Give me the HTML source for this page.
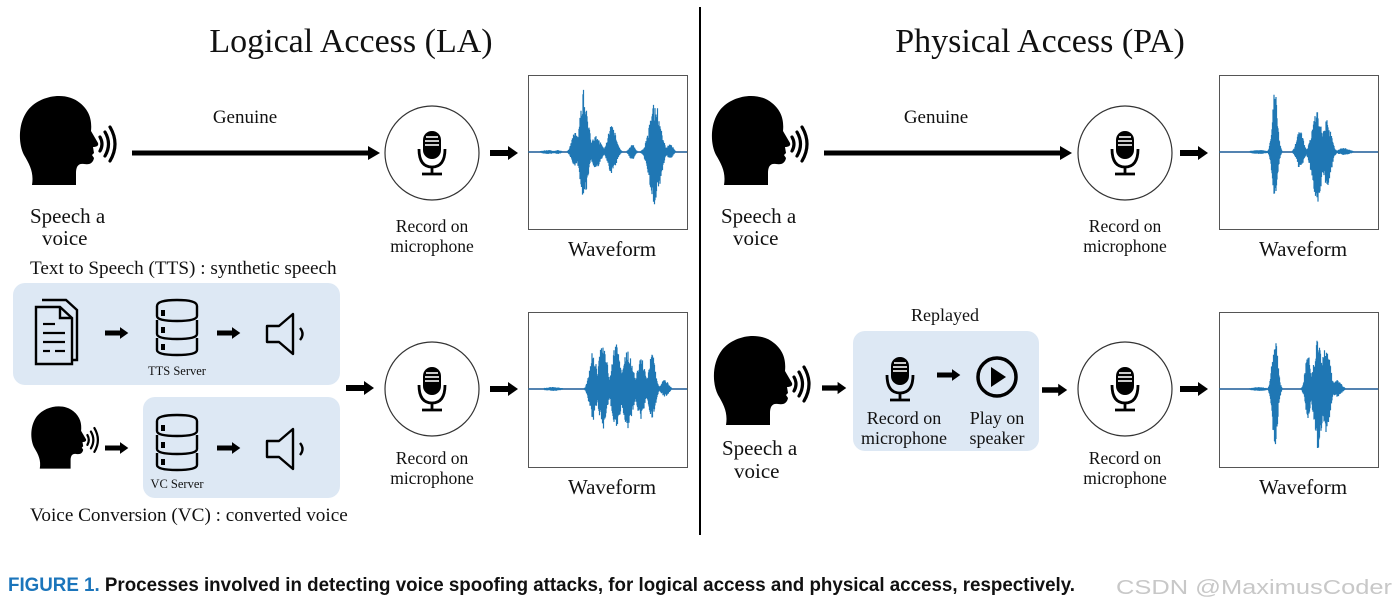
<!DOCTYPE html>
<html><head><meta charset="utf-8">
<style>
html,body{margin:0;padding:0;background:#fff;}
svg{display:block;}
text{font-family:"Liberation Serif",serif;fill:#111;}
</style></head>
<body>
<svg id="s" width="1397" height="612" viewBox="0 0 1397 612" xmlns="http://www.w3.org/2000/svg">
<defs>
  <symbol id="head" viewBox="0 0 100 95" overflow="visible">
    <path d="M14 92 C16 80 12 72 6 62 C0 50 0 30 10 17 C22 2 48 -2 62 10 C72 18 74 28 73 38 L80 50 C81 53 78 54 75 54 L76 60 L74 62 L76 65 C75 70 72 72 66 71 C60 70 58 74 58 80 L58 92 Z" fill="#000"/>
    <g fill="none" stroke="#000" stroke-width="3.2" stroke-linecap="round">
      <path d="M82 44 Q86 51 82 58"/><path d="M87 39 Q94 51 87 63"/><path d="M92 34 Q102 51 92 68"/>
    </g>
  </symbol>
  <symbol id="mic" viewBox="-20 -25 40 50" overflow="visible">
    <rect x="-9" y="-22" width="18" height="28" rx="9" fill="#000"/>
    <g stroke="#fff" stroke-width="1.6"><line x1="-6" y1="-16" x2="6" y2="-16"/><line x1="-7" y1="-12" x2="7" y2="-12"/><line x1="-7" y1="-8" x2="7" y2="-8"/></g>
    <path d="M-13 -4 Q-13 14 0 14 Q13 14 13 -4" fill="none" stroke="#000" stroke-width="2.8"/>
    <line x1="0" y1="14" x2="0" y2="21" stroke="#000" stroke-width="2.8"/>
    <line x1="-10" y1="21" x2="10" y2="21" stroke="#000" stroke-width="2.8"/>
  </symbol>
  <symbol id="db" viewBox="0 0 44 58" overflow="visible">
    <g fill="none" stroke="#000" stroke-width="2.4">
      <path d="M2 8 Q2 2 22 2 Q42 2 42 8 L42 18 Q42 23 22 23 Q2 23 2 18 Z"/>
      <path d="M2 22 L2 36 Q2 41 22 41 Q42 41 42 36 L42 22"/>
      <path d="M2 40 L2 52 Q2 57 22 57 Q42 57 42 52 L42 40"/>
    </g>
    <rect x="6" y="12" width="4" height="6" fill="#000"/><rect x="6" y="29" width="4" height="6" fill="#000"/><rect x="6" y="46" width="4" height="6" fill="#000"/>
  </symbol>
  <symbol id="spk" viewBox="0 0 50 44" overflow="visible">
    <path d="M2 14 L14 14 L28 2 L28 42 L14 30 L2 30 Z" fill="none" stroke="#000" stroke-width="2.4" stroke-linejoin="round"/>
    <path d="M35 16 Q40 22 35 28" fill="none" stroke="#000" stroke-width="2.4"/>
  </symbol>
  <symbol id="arr" viewBox="0 0 30 14" overflow="visible">
    <path d="M0 4 L18 4 L18 0 L28 7 L18 14 L18 10 L0 10 Z" fill="#000"/>
  </symbol>
</defs>

<text x="351" y="52" font-size="34" text-anchor="middle">Logical Access (LA)</text>
<text x="1040" y="52" font-size="34" text-anchor="middle">Physical Access (PA)</text>
<line x1="700" y1="7" x2="700" y2="535" stroke="#000" stroke-width="2"/>

<!-- LA top -->
<use href="#head" x="18" y="93" width="100" height="95"/>
<text x="245" y="123" font-size="19" text-anchor="middle">Genuine</text>
<line x1="132" y1="153" x2="370" y2="153" stroke="#000" stroke-width="5"/>
<path d="M368 146 L380 153 L368 160 Z" fill="#000"/>
<text x="30" y="223" font-size="21">Speech a</text>
<text x="42" y="245" font-size="21">voice</text>
<circle cx="432" cy="153" r="47" fill="none" stroke="#333" stroke-width="1.2"/>
<use href="#mic" x="412" y="128" width="40" height="50"/>
<use href="#arr" x="490" y="146" width="30" height="14"/>
<rect x="528.5" y="75.5" width="159" height="154" fill="none" stroke="#555" stroke-width="1"/>
<g id="w1"></g>
<text x="432" y="232" font-size="17.5" text-anchor="middle">Record on</text>
<text x="432" y="252" font-size="17.5" text-anchor="middle">microphone</text>
<text x="612" y="256" font-size="21" text-anchor="middle">Waveform</text>
<text x="30" y="274" font-size="19.2">Text to Speech (TTS) : synthetic speech</text>

<!-- LA bottom -->
<rect x="13" y="283" width="327" height="102" rx="12" fill="#dde8f4"/>
<rect x="143" y="397" width="197" height="101" rx="12" fill="#dde8f4"/>
<g fill="none" stroke="#000" stroke-width="2.4">
  <path d="M42 300 L66 300 L77 310 L77 360 L42 360"/>
  <path d="M36 307 L60 307 L72 318 L72 364 L36 364 Z" fill="#dde8f4"/>
  <path d="M60 307 L60 318 L72 318"/>
</g>
<g stroke="#000" stroke-width="2.2"><line x1="43" y1="324" x2="55" y2="324"/><line x1="43" y1="333" x2="65" y2="333"/><line x1="43" y1="342" x2="65" y2="342"/><line x1="43" y1="351" x2="50" y2="351"/><line x1="55" y1="351" x2="65" y2="351"/></g>
<use href="#arr" x="105" y="326" width="25" height="14"/>
<use href="#db" x="155" y="298" width="44" height="58"/>
<use href="#arr" x="217" y="326" width="25" height="14"/>
<use href="#spk" x="265" y="312" width="50" height="44"/>
<text x="177" y="375" font-size="12.5" text-anchor="middle">TTS Server</text>

<use href="#head" x="30" y="404" width="70" height="67"/>
<use href="#arr" x="105" y="441" width="25" height="14"/>
<use href="#db" x="155" y="413" width="44" height="58"/>
<use href="#arr" x="217" y="441" width="25" height="14"/>
<use href="#spk" x="265" y="427" width="50" height="44"/>
<text x="177" y="488" font-size="12.5" text-anchor="middle">VC Server</text>
<text x="30" y="521" font-size="19.2">Voice Conversion (VC) : converted voice</text>

<use href="#arr" x="344" y="381" width="34" height="14"/>
<circle cx="432" cy="389" r="47" fill="none" stroke="#333" stroke-width="1.2"/>
<use href="#mic" x="412" y="364" width="40" height="50"/>
<use href="#arr" x="490" y="382" width="30" height="14"/>
<rect x="528.5" y="312.5" width="159" height="155" fill="none" stroke="#555" stroke-width="1"/>
<g id="w2"></g>
<text x="432" y="464" font-size="17.5" text-anchor="middle">Record on</text>
<text x="432" y="484" font-size="17.5" text-anchor="middle">microphone</text>
<text x="612" y="494" font-size="21" text-anchor="middle">Waveform</text>

<!-- PA top -->
<use href="#head" x="710" y="93" width="100" height="95"/>
<text x="936" y="123" font-size="19" text-anchor="middle">Genuine</text>
<line x1="824" y1="153" x2="1062" y2="153" stroke="#000" stroke-width="5"/>
<path d="M1060 146 L1072 153 L1060 160 Z" fill="#000"/>
<text x="721" y="223" font-size="21">Speech a</text>
<text x="733" y="245" font-size="21">voice</text>
<circle cx="1125" cy="153" r="47" fill="none" stroke="#333" stroke-width="1.2"/>
<use href="#mic" x="1105" y="128" width="40" height="50"/>
<use href="#arr" x="1180" y="146" width="30" height="14"/>
<rect x="1219.5" y="75.5" width="159" height="154" fill="none" stroke="#555" stroke-width="1"/>
<g id="w3"></g>
<text x="1125" y="232" font-size="17.5" text-anchor="middle">Record on</text>
<text x="1125" y="252" font-size="17.5" text-anchor="middle">microphone</text>
<text x="1303" y="256" font-size="21" text-anchor="middle">Waveform</text>

<!-- PA bottom -->
<use href="#head" x="712" y="333" width="100" height="95"/>
<text x="722" y="455" font-size="21">Speech a</text>
<text x="734" y="478" font-size="21">voice</text>
<use href="#arr" x="822" y="381" width="26" height="14"/>
<text x="945" y="321" font-size="18" text-anchor="middle">Replayed</text>
<rect x="853" y="331" width="186" height="120" rx="12" fill="#dde8f4"/>
<use href="#mic" x="880" y="354" width="40" height="50"/>
<use href="#arr" x="937" y="368" width="25" height="14"/>
<circle cx="997" cy="377" r="19" fill="none" stroke="#000" stroke-width="3.5"/>
<path d="M991 367 L1006 377 L991 387 Z" fill="#000"/>
<text x="904" y="424" font-size="18" text-anchor="middle">Record on</text>
<text x="904" y="444" font-size="18" text-anchor="middle">microphone</text>
<text x="997" y="424" font-size="18" text-anchor="middle">Play on</text>
<text x="997" y="444" font-size="18" text-anchor="middle">speaker</text>
<use href="#arr" x="1042" y="383" width="27" height="14"/>
<circle cx="1125" cy="389" r="47" fill="none" stroke="#333" stroke-width="1.2"/>
<use href="#mic" x="1105" y="364" width="40" height="50"/>
<use href="#arr" x="1180" y="382" width="30" height="14"/>
<rect x="1219.5" y="312.5" width="159" height="155" fill="none" stroke="#555" stroke-width="1"/>
<g id="w4"></g>
<text x="1125" y="464" font-size="17.5" text-anchor="middle">Record on</text>
<text x="1125" y="484" font-size="17.5" text-anchor="middle">microphone</text>
<text x="1303" y="494" font-size="21" text-anchor="middle">Waveform</text>

<text x="8" y="591" font-size="19" font-weight="bold" style="font-family:'Liberation Sans Narrow','Liberation Sans',sans-serif" textLength="1067" lengthAdjust="spacingAndGlyphs"><tspan fill="#1b75bb">FIGURE 1.</tspan><tspan fill="#111"> Processes involved in detecting voice spoofing attacks, for logical access and physical access, respectively.</tspan></text>
<text x="1116" y="594" font-size="20" textLength="276" lengthAdjust="spacingAndGlyphs" style="font-family:'Liberation Sans',sans-serif;fill:#c8c8c8">CSDN @MaximusCoder</text>
</svg>
<script>
(function(){
  var seed=7;function rnd(){seed=(seed*16807)%2147483647;return seed/2147483647;}
  function wave(id,x0,y0,w,cy,bursts){
    var g=document.getElementById(id),ns="http://www.w3.org/2000/svg";
    var d="";
    for(var x=1;x<w-1;x+=0.5){
      var up=0.7,dn=0.7;
      for(var i=0;i<bursts.length;i++){var b=bursts[i];var t=(x-b[0])/b[1];var e=Math.exp(-t*t*1.2);up=Math.max(up,b[2]*e*(0.6+0.4*rnd()));dn=Math.max(dn,b[3]*e*(0.6+0.4*rnd()));}
      d+="M"+(x0+x).toFixed(1)+" "+(cy-up).toFixed(1)+"V"+(cy+dn).toFixed(1);
    }
    var l=document.createElementNS(ns,"line");l.setAttribute("x1",x0+1);l.setAttribute("x2",x0+w-1);l.setAttribute("y1",cy);l.setAttribute("y2",cy);l.setAttribute("stroke","#e55");l.setAttribute("stroke-width","1.4");g.appendChild(l);
    var p=document.createElementNS(ns,"path");p.setAttribute("d",d);p.setAttribute("stroke","#1f77b4");p.setAttribute("stroke-width","1.2");p.setAttribute("fill","none");g.appendChild(p);
  }
  wave("w1",528,75,160,152,[[47,5,20,14],[56,6,63,48],[68,7,16,16],[84,6,30,22],[104,4,8,8],[127,8,50,54],[142,4,10,7],[20,10,2,2],[30,5,2,2]]);
  wave("w2",528,312,160,389,[[65,5,40,32],[75,6,50,40],[88,6,45,45],[100,7,40,40],[113,6,32,30],[124,5,35,30],[137,5,10,8],[25,12,2,2]]);
  wave("w3",1219,75,160,152,[[56,4,63,48],[81,5,22,17],[98,7,40,52],[108,6,32,36],[125,9,4,3],[40,12,2,2]]);
  wave("w4",1219,312,160,389,[[56,4,58,58],[89,4,37,30],[99,6,50,60],[107,6,45,45],[118,6,10,8],[40,12,2,2]]);
})();
</script>
</body></html>
